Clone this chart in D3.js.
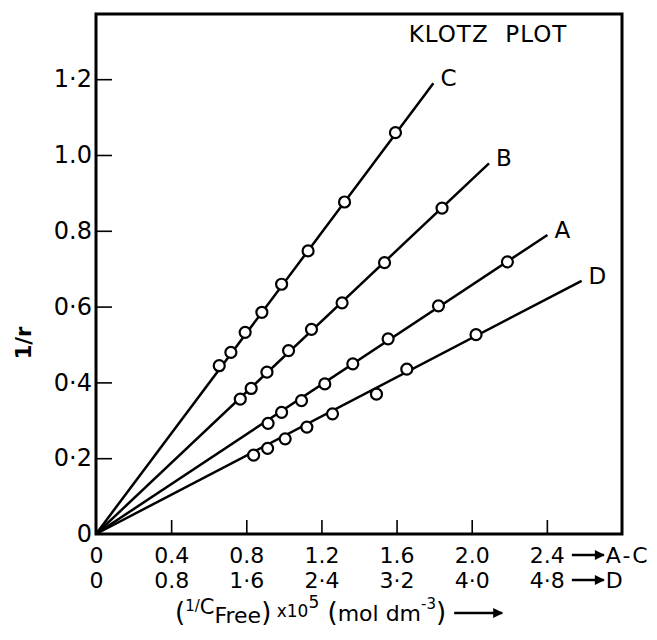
<!DOCTYPE html>
<html>
<head>
<meta charset="utf-8">
<script src="https://cdn.jsdelivr.net/npm/d3@7"></script>
<style>
  body { margin: 0; background: #fff; }
  svg { display: block; }
</style>
</head>
<body>
<svg id="chart" width="657" height="640"></svg>
<script>
//series (x for A-C in upper scale, x for D in lower scale)
const seriesNames = ["A", "B", "C", "D"];
const xA = [0.916, 0.988, 1.094, 1.218, 1.367, 1.555, 1.823, 2.190];
const yA = [0.292, 0.321, 0.352, 0.396, 0.449, 0.515, 0.602, 0.718];
const xB = [0.768, 0.826, 0.910, 1.025, 1.147, 1.310, 1.536, 1.842];
const yB = [0.356, 0.384, 0.427, 0.484, 0.540, 0.610, 0.716, 0.860];
const xC = [0.656, 0.718, 0.794, 0.883, 0.988, 1.129, 1.323, 1.594];
const yC = [0.444, 0.479, 0.532, 0.585, 0.659, 0.747, 0.876, 1.059];
const xD = [1.678, 1.827, 2.014, 2.245, 2.518, 2.986, 3.309, 4.046];
const yD = [0.208, 0.226, 0.251, 0.282, 0.317, 0.369, 0.435, 0.526];

//end of each fitted line through the origin [x, y]
const lineEnds = {A: [2.403, 0.789], B: [2.092, 0.978], C: [1.796, 1.189], D: [5.170, 0.668]};

//tick values and labels
const yTicks = [0, 0.2, 0.4, 0.6, 0.8, 1.0, 1.2];
const yTickLabels = ["0", "0\u00b72", "0\u00b74", "0\u00b76", "0.8", "1.0", "1\u00b72"];
const xTicks = [0, 0.4, 0.8, 1.2, 1.6, 2.0, 2.4];
const xTickLabels = ["0", "0.4", "0.8", "1.2", "1.6", "2.0", "2.4"];
const xDTicks = [0, 0.8, 1.6, 2.4, 3.2, 4.0, 4.8];
const xDTickLabels = ["0", "0.8", "1\u00b76", "2\u00b74", "3\u00b72", "4\u00b70", "4\u00b78"];

const svg = d3.select("#chart");
const font = "'DejaVu Sans', sans-serif";
const margin = {top: 14, right: 35, bottom: 106, left: 96};
const width = 657, height = 640;

const x = d3.scaleLinear().domain([0, 2.8]).range([margin.left, width - margin.right]);
const xDs = d3.scaleLinear().domain([0, 5.6]).range([margin.left, width - margin.right]);
const y = d3.scaleLinear().domain([0, 1.372]).range([height - margin.bottom, margin.top]);

const series = [
    {name: "A", xs: xA, ys: yA, sx: x},
    {name: "B", xs: xB, ys: yB, sx: x},
    {name: "C", xs: xC, ys: yC, sx: x},
    {name: "D", xs: xD, ys: yD, sx: xDs}
];

//axes: ticks point inward
const yAxis = svg.append("g")
    .attr("transform", `translate(${margin.left},0)`)
    .call(d3.axisLeft(y).tickValues(yTicks).tickSizeInner(-16).tickSizeOuter(0).tickPadding(4)
        .tickFormat((d, i) => yTickLabels[i]));
yAxis.selectAll(".tick").filter(d => d === 0).select("line").remove();
yAxis.selectAll(".tick text").style("font", `24px ${font}`);

const xAxis = svg.append("g")
    .attr("transform", `translate(0,${height - margin.bottom})`)
    .call(d3.axisBottom(x).tickValues(xTicks).tickSizeInner(-14).tickSizeOuter(0).tickPadding(12)
        .tickFormat((d, i) => xTickLabels[i]));
xAxis.selectAll(".tick").filter(d => d === 0).select("line").remove();

const xAxisD = svg.append("g")
    .attr("transform", `translate(0,${height - margin.bottom + 26})`)
    .call(d3.axisBottom(xDs).tickValues(xDTicks).tickSize(0).tickPadding(12)
        .tickFormat((d, i) => xDTickLabels[i]));

svg.selectAll(".tick line").attr("stroke", "#000").attr("stroke-width", 1.6);
svg.selectAll(".tick text").attr("fill", "#000");
xAxis.selectAll(".tick text").style("font", `22px ${font}`).attr("dy", "0.76em");
xAxisD.selectAll(".tick text").style("font", `22px ${font}`);
svg.selectAll(".domain").remove();

//frame
svg.append("rect")
    .attr("x", margin.left)
    .attr("y", margin.top)
    .attr("width", width - margin.left - margin.right)
    .attr("height", height - margin.top - margin.bottom)
    .attr("fill", "none")
    .attr("stroke", "#000")
    .attr("stroke-width", 3);

//arrowhead
svg.append("defs").append("marker")
    .attr("id", "arrow")
    .attr("viewBox", "0 0 10 10")
    .attr("refX", 9).attr("refY", 5)
    .attr("markerWidth", 12).attr("markerHeight", 10)
    .attr("markerUnits", "userSpaceOnUse")
    .attr("orient", "auto")
    .append("path")
        .attr("d", "M0,0 L10,5 L0,10 z")
        .attr("fill", "#000");

//arrows after the last tick labels
function tickArrow(yPos, label) {
    const x0 = x(2.4) + 25;
    svg.append("line")
        .attr("x1", x0).attr("x2", x0 + 32)
        .attr("y1", yPos).attr("y2", yPos)
        .attr("stroke", "#000")
        .attr("stroke-width", 2.5)
        .attr("marker-end", "url(#arrow)");
    svg.append("text")
        .attr("x", x0 + 34)
        .attr("y", yPos + 8)
        .style("font", `22px ${font}`)
        .style("letter-spacing", "2px")
        .text(label);
}
tickArrow(height - margin.bottom + 21, "A-C");
tickArrow(height - margin.bottom + 46, "D");

//fitted lines through origin
svg.append("g")
    .selectAll("line")
    .data(series)
    .join("line")
        .attr("x1", d => d.sx(0))
        .attr("y1", y(0))
        .attr("x2", d => d.sx(lineEnds[d.name][0]))
        .attr("y2", d => y(lineEnds[d.name][1]))
        .attr("stroke", "#000")
        .attr("stroke-width", 2.5);

//line labels
svg.append("g")
    .selectAll("text")
    .data(series)
    .join("text")
        .attr("x", d => d.sx(lineEnds[d.name][0]) + 7)
        .attr("y", d => y(lineEnds[d.name][1]) + 3)
        .style("font", `23px ${font}`)
        .text(d => d.name);

//data points
series.forEach(s => {
    svg.append("g")
        .selectAll("circle")
        .data(s.xs.map((v, i) => [v, s.ys[i]]))
        .join("circle")
            .attr("cx", d => s.sx(d[0]))
            .attr("cy", d => y(d[1]))
            .attr("r", 5.5)
            .attr("fill", "#fff")
            .attr("stroke", "#000")
            .attr("stroke-width", 2.2);
});

//plot title inside the frame
svg.append("text")
    .attr("x", 488)
    .attr("y", 42)
    .attr("text-anchor", "middle")
    .style("font", `23px ${font}`)
    .style("letter-spacing", "1px")
    .attr("xml:space", "preserve")
    .text("KLOTZ  PLOT");

//y axis title
svg.append("text")
    .attr("transform", "translate(31,343) rotate(-90)")
    .attr("text-anchor", "middle")
    .style("font", `bold 21px ${font}`)
    .text("1/r");

//x axis title, pieces with their own size and baseline
const titleParts = [
    {t: "(", size: 26, y: 621},
    {t: "1/", size: 15, y: 611},
    {t: "C", size: 21, y: 614},
    {t: "Free", size: 22, y: 623},
    {t: ")", size: 26, y: 621},
    {t: " x10", size: 17, y: 617},
    {t: "5", size: 17, y: 608},
    {t: " (", size: 26, y: 621},
    {t: "mol dm", size: 22, y: 621},
    {t: "-3", size: 15, y: 609},
    {t: ")", size: 26, y: 621}
];
const xTitle = svg.append("text")
    .attr("x", 175)
    .attr("y", 621)
    .attr("xml:space", "preserve")
    .style("font-family", font);
titleParts.forEach(p => {
    xTitle.append("tspan")
        .attr("y", p.y)
        .style("font-size", `${p.size}px`)
        .text(p.t);
});

const titleEnd = 175 + xTitle.node().getComputedTextLength();
svg.append("line")
    .attr("x1", titleEnd + 8).attr("x2", titleEnd + 56)
    .attr("y1", 613).attr("y2", 613)
    .attr("stroke", "#000")
    .attr("stroke-width", 2.5)
    .attr("marker-end", "url(#arrow)");
</script>
</body>
</html>
